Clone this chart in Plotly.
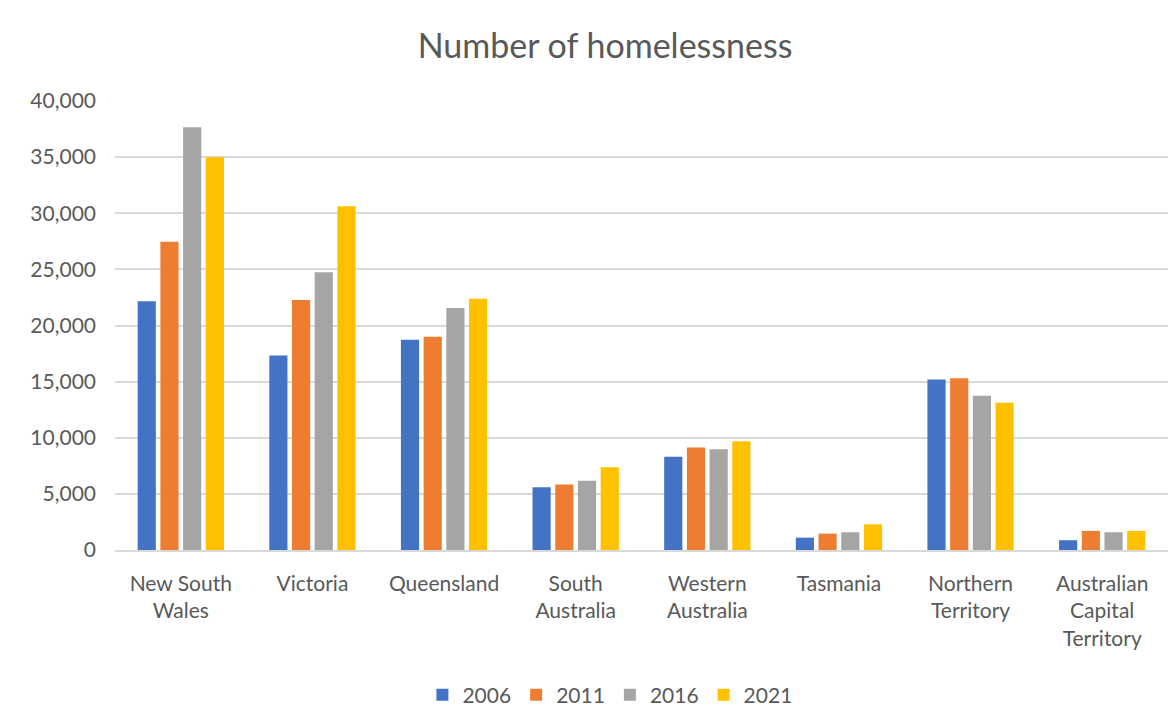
import plotly.graph_objects as go

states = ["New South<br>Wales", "Victoria", "Queensland", "South<br>Australia",
          "Western<br>Australia", "Tasmania", "Northern<br>Territory",
          "Australian<br>Capital<br>Territory"]
years = ["2006", "2011", "2016", "2021"]
v2006 = [22150, 17330, 18730, 5590, 8300, 1100, 15200, 870]
v2011 = [27450, 22270, 19000, 5830, 9130, 1460, 15300, 1700]
v2016 = [37670, 24740, 21560, 6180, 8980, 1580, 13740, 1580]
v2021 = [35000, 30630, 22390, 7370, 9690, 2290, 13110, 1700]
colors = ["#4472C4", "#ED7D31", "#A5A5A5", "#FFC000"]

fig = go.Figure()
for name, vals, c in zip(years, [v2006, v2011, v2016, v2021], colors):
    fig.add_trace(go.Bar(name=name, x=states, y=vals, marker_color=c,
                         marker_line_width=0))

font = "Lato, 'Open Sans', sans-serif"
fig.update_layout(
    width=1168, height=724,
    paper_bgcolor="white", plot_bgcolor="white",
    font=dict(family=font, size=21, color="#595959"),
    title=dict(text="Number of homelessness", x=0.518, xanchor="center",
               y=0.937, yanchor="middle",
               font=dict(size=34, color="#595959", family=font)),
    barmode="group", bargap=0.31, bargroupgap=0.2,
    margin=dict(l=115, r=0, t=101, b=174),
    legend=dict(orientation="h", x=0.47, xanchor="center", y=-0.323,
                yanchor="middle", font=dict(size=21), itemwidth=30,
                traceorder="normal"),
    showlegend=True,
)
fig.update_yaxes(range=[0, 40000], dtick=5000, tickformat=",",
                 gridcolor="#D9D9D9", gridwidth=1.5, zeroline=False,
                 showline=False, ticks="", ticklabelstandoff=18,
                 tickfont=dict(size=21, color="#595959"))
fig.update_xaxes(showline=True, linecolor="#D9D9D9", linewidth=1.5,
                 ticks="", tickfont=dict(size=21, color="#595959"),
                 ticklabelstandoff=14, tickangle=0)
fig.write_html("out.html")
